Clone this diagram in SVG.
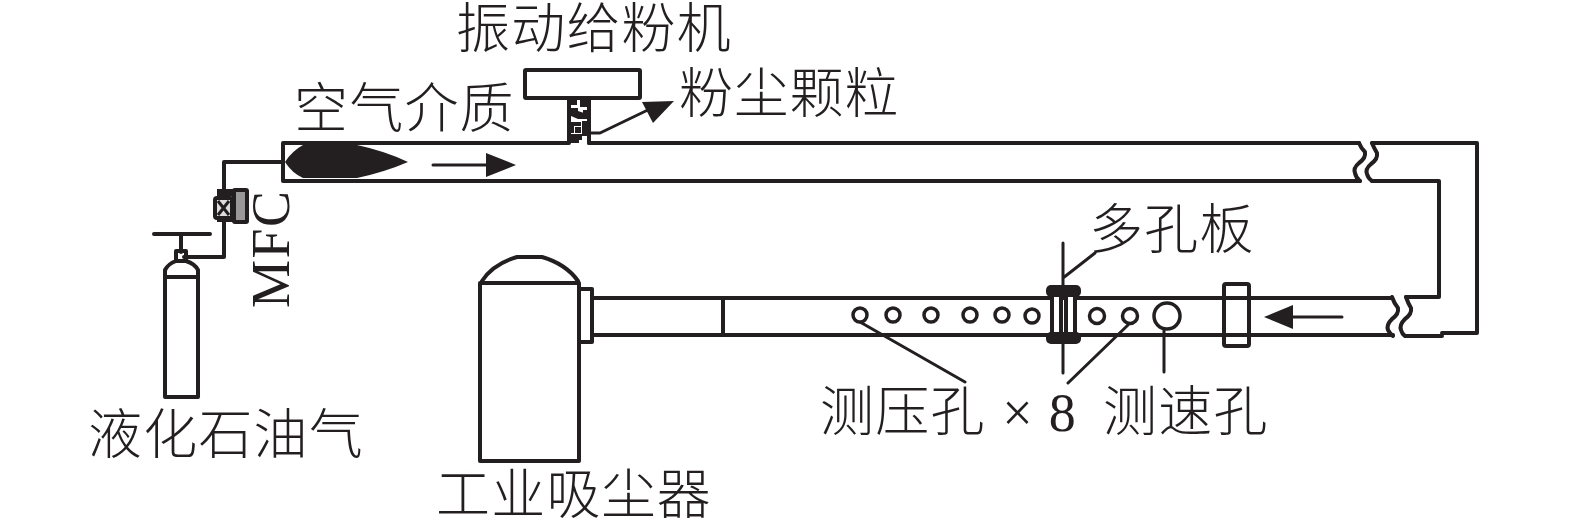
<svg xmlns="http://www.w3.org/2000/svg" width="1575" height="528" viewBox="0 0 1575 528">
<style>
.l{fill:none;stroke:#231f20;stroke-width:4;stroke-linejoin:round;stroke-linecap:round}
.t{stroke-width:3}
.b{fill:#231f20;stroke:none}
.h{fill:#fff;stroke:#231f20;stroke-width:3.5}
text{font-family:"Liberation Serif","Noto Sans CJK SC",serif;font-size:54px;fill:#231f20;font-weight:300;letter-spacing:1.2px}
</style>
<rect width="1575" height="528" fill="#fff"/>
<g id="connectors">
<path class="l" d="M224 162H283M224 162V190M224 220V257H184"/>
<path class="l t" d="M591 133H600L652 108"/>
<polygon class="b" points="674,101 642,102 653,123"/>
<path class="l t" d="M433 165H490"/>
<polygon class="b" points="516,165 486,153 486,177"/>
<path class="l t" d="M1342 317H1285"/>
<polygon class="b" points="1264,317 1293,305 1293,329"/>
<path class="l t" d="M1095 253L1063 278M1063 243V286M1063 344V373"/>
<path class="l t" d="M860 322L965 382M1128 325L1068 383M1164 328V372"/>
</g>
<g id="pipe-top">
<path class="l" d="M568 143H283V181H1360"/>
<path class="l" d="M589 143H1359"/>
<path class="l" d="M1359 143Q1361 148 1365 152Q1366 158 1359 163Q1353 168 1355 173Q1356 178 1360 181"/>
<path class="l" d="M1372 143Q1374 148 1377 153Q1378 159 1371 164Q1365 169 1367 174Q1368 178 1372 181"/>
<path class="l" d="M1372 143H1477V333H1442"/>
<path class="l" d="M1372 181H1439V297H1406"/>
</g>
<g id="pipe-bottom">
<path class="l" d="M592 298H1392M592 335H1393"/>
<path class="l" d="M1392 297Q1394 303 1398 308Q1399 314 1392 319Q1386 325 1388 330Q1390 334 1393 336"/>
<path class="l" d="M1406 297Q1408 303 1411 308Q1412 314 1405 319Q1399 325 1401 330Q1402 334 1405 336H1442"/>
<path class="l" d="M723 298V334"/>
<rect class="l" x="1224" y="284" width="25" height="62" rx="2"/>
</g>
<g id="flame">
<path class="b" d="M285 162Q292 151 303 145H357Q385 151 408 162Q385 172 357 178H303Q292 173 285 162Z"/>
</g>
<g id="feeder">
<rect class="l" x="525" y="70" width="115" height="28" rx="1"/>
<path class="l" d="M569 99V143M589 99V143"/>
<path class="b" d="M571 100h6v5h-6zM580 100h7v7h-7zM571 108h7v3l6 2v6h-6l-7-3zM583 110h4v9h-4zM570 122h11v4h-7v7h-4zM582 121h5v15h-5zM575 127h6v6h-6zM571 134h11v6h-3v3h-8z"/>
</g>
<g id="mfc">
<rect x="215" y="198" width="17" height="20" rx="2" fill="#ddd" stroke="#231f20" stroke-width="4"/>
<path d="M218 201l11 14M229 201l-11 14" stroke="#231f20" stroke-width="3"/>
<rect x="234" y="190" width="13" height="32" rx="1" fill="#999" stroke="#231f20" stroke-width="4"/>
<rect x="217" y="189" width="17" height="7" fill="#231f20"/>
<rect x="217" y="219" width="17" height="3" fill="#231f20"/>
<text transform="translate(289 308) rotate(-90)" style="letter-spacing:1.5px">MFC</text>
</g>
<g id="cylinder">
<path class="l" d="M154 234H210M181 234V252"/>
<rect class="l" x="176" y="251" width="10" height="10"/>
<path class="l" d="M165 397V270Q168 264 176 261M198 397V270Q195 264 186 261M165 277H198M165 397H198"/>
</g>
<g id="collector">
<path class="l" d="M482 281Q493 264 517 257H542Q566 264 578 281"/>
<path class="l" d="M480 283H579M480 283V461H579V283"/>
<rect class="l" x="579" y="289" width="13" height="53"/>
</g>
<g id="orifice">
<rect x="1052" y="295" width="9" height="40" fill="#fff" stroke="#231f20" stroke-width="4"/>
<rect x="1066" y="295" width="9" height="40" fill="#fff" stroke="#231f20" stroke-width="4"/>
<rect class="b" x="1046" y="285" width="35" height="12" rx="5"/>
<rect class="b" x="1046" y="332" width="35" height="12" rx="5"/>
</g>
<g id="holes">
<circle class="h" cx="860" cy="315" r="7"/>
<circle class="h" cx="893" cy="315" r="7"/>
<circle class="h" cx="931" cy="315" r="7"/>
<circle class="h" cx="970" cy="315" r="7"/>
<circle class="h" cx="1002" cy="315" r="7"/>
<circle class="h" cx="1032" cy="316" r="7"/>
<circle class="h" cx="1097" cy="316" r="7.5"/>
<circle class="h" cx="1130" cy="316" r="7.5"/>
<circle class="h" cx="1167" cy="316" r="13"/>
</g>
<g id="labels">
<text x="456" y="48">振动给粉机</text>
<text x="679" y="113">粉尘颗粒</text>
<text x="294" y="128">空气介质</text>
<text x="1089" y="249">多孔板</text>
<text x="820" y="431">测压孔 <tspan dx="2">×</tspan> 8</text>
<text x="1103" y="431">测速孔</text>
<text x="88" y="454">液化石油气</text>
<text x="436" y="514">工业吸尘器</text>
</g>
</svg>
